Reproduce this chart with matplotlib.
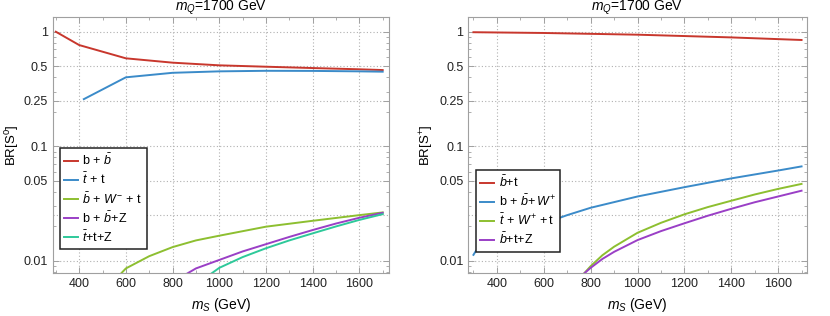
import matplotlib
matplotlib.use("Agg")
import matplotlib.pyplot as plt
from matplotlib.ticker import FixedLocator, NullFormatter, FixedFormatter

plt.rcParams['font.family'] = ['Liberation Sans', 'DejaVu Sans']
plt.rcParams['mathtext.fontset'] = 'custom'
plt.rcParams['mathtext.rm'] = 'Liberation Sans'
plt.rcParams['mathtext.it'] = 'Liberation Sans:italic'
plt.rcParams['mathtext.default'] = 'it'

# ---------------- data: left panel (S0) ----------------
l_bb_x = [300, 400, 600, 800, 1000, 1200, 1400, 1600, 1700]
l_bb_y = [1.0, 0.765, 0.586, 0.537, 0.509, 0.495, 0.482, 0.470, 0.463]
l_tt_x = [420, 600, 800, 1000, 1200, 1400, 1600, 1700]
l_tt_y = [0.258, 0.40, 0.438, 0.451, 0.456, 0.455, 0.451, 0.448]
l_bwt_x = [575, 600, 700, 800, 900, 1000, 1200, 1400, 1600, 1700]
l_bwt_y = [0.0076, 0.0086, 0.0110, 0.0132, 0.0151, 0.0166, 0.0199, 0.0224, 0.0251, 0.0265]
l_bbz_x = [855, 900, 1000, 1100, 1200, 1300, 1400, 1500, 1600, 1700]
l_bbz_y = [0.0076, 0.0086, 0.0102, 0.0121, 0.0140, 0.0162, 0.0186, 0.0212, 0.0238, 0.0263]
l_ttz_x = [960, 1000, 1100, 1200, 1300, 1400, 1500, 1600, 1700]
l_ttz_y = [0.0076, 0.0087, 0.0108, 0.0129, 0.0151, 0.0174, 0.0200, 0.0228, 0.0256]

# ---------------- data: right panel (S+) ----------------
r_bt_x = [300, 600, 1000, 1400, 1700]
r_bt_y = [0.99, 0.975, 0.942, 0.892, 0.847]
r_bbw_x = [300, 310, 330, 400, 500, 600, 700, 800, 1000, 1200, 1400, 1600, 1700]
r_bbw_y = [0.0113, 0.0122, 0.0133, 0.0155, 0.0182, 0.0212, 0.0251, 0.0291, 0.0365,
           0.0440, 0.0525, 0.0615, 0.0668]
r_twt_x = [770, 800, 850, 900, 1000, 1100, 1200, 1300, 1400, 1500, 1600, 1700]
r_twt_y = [0.0077, 0.0090, 0.0112, 0.0133, 0.0176, 0.0215, 0.0255, 0.0295, 0.0335,
           0.0380, 0.0425, 0.0470]
r_btz_x = [770, 800, 850, 900, 1000, 1100, 1200, 1300, 1400, 1500, 1600, 1700]
r_btz_y = [0.0077, 0.0087, 0.0104, 0.0120, 0.0152, 0.0182, 0.0213, 0.0248, 0.0285,
           0.0325, 0.0365, 0.0410]

left_labels = [r'b$\,+\,\bar{b}$', r'$\bar{t}$$\,+\,$t', r'$\bar{b}$$\,+\,W^{-}\,+\,$t',
               r'b$\,+\,\bar{b}$$+$Z', r'$\bar{t}$$+$t$+$Z']
right_labels = [r'$\bar{b}$$+$t', r'b$\,+\,\bar{b}$$+\,W^{+}$', r'$\bar{t}$$\,+\,W^{+}\,+$t',
                r'$\bar{b}$$+$t$+$Z']

yticks = [0.01, 0.05, 0.1, 0.25, 0.5, 1]
yticklabels = ['0.01', '0.05', '0.1', '0.25', '0.5', '1']
ygrid = [0.01, 0.025, 0.05, 0.1, 0.25, 0.5, 1]
xticks = [400, 600, 800, 1000, 1200, 1400, 1600]
xminor = [300, 500, 700, 900, 1100, 1300, 1500, 1700]

C_RED = '#c8372d'
C_BLUE = '#3b8bc9'
C_GREEN = '#8dbf30'
C_PURPLE = '#9a3fc6'
C_TEAL = '#2ec99a'

fig = plt.figure(figsize=(8.3, 3.16), dpi=100)
axL = fig.add_axes([53/830, 1 - 273.3/316, 336/830, 256/316])
axR = fig.add_axes([468.3/830, 1 - 273.3/316, 338.4/830, 256/316])

yminor = []
for dec in [0.001, 0.01, 0.1]:
    for s in range(2, 10):
        yminor.append(s * dec)

def style(ax, xlim, ylabel):
    ax.set_yscale('log')
    ax.set_xlim(*xlim)
    ax.set_ylim(0.0078, 1.336)
    ax.yaxis.set_major_locator(FixedLocator(yticks))
    ax.yaxis.set_major_formatter(FixedFormatter(yticklabels))
    ax.yaxis.set_minor_locator(FixedLocator(yminor))
    ax.yaxis.set_minor_formatter(NullFormatter())
    ax.xaxis.set_major_locator(FixedLocator(xticks))
    ax.xaxis.set_minor_locator(FixedLocator(xminor))
    for v in xticks:
        ax.axvline(v, color='#b0b0b0', lw=0.8, ls=(0, (1, 2)), zorder=0)
    for v in ygrid:
        ax.axhline(v, color='#b0b0b0', lw=0.8, ls=(0, (1, 2)), zorder=0)
    for sp in ax.spines.values():
        sp.set_color('#a0a0a0')
        sp.set_linewidth(0.8)
    ax.tick_params(which='both', direction='in', colors='#a0a0a0', labelcolor='#222222',
                   labelsize=9, top=True, right=True)
    ax.tick_params(which='major', length=4, width=0.7)
    ax.tick_params(which='minor', length=2, width=0.6)
    ax.set_title(r'$m_{Q}$=1700 GeV', fontsize=10, pad=1.5)
    ax.set_xlabel(r'$m_{S}$ (GeV)', fontsize=10, labelpad=4)
    ax.set_ylabel(ylabel, fontsize=9.5, labelpad=2)

style(axL, (288, 1727), r'BR[$\mathrm{S}^{0}$]')
style(axR, (278, 1722), r'BR[$\mathrm{S}^{+}$]')

lw = 1.4
axL.plot(l_bb_x, l_bb_y, color=C_RED, lw=lw, label=left_labels[0])
axL.plot(l_tt_x, l_tt_y, color=C_BLUE, lw=lw, label=left_labels[1])
axL.plot(l_bwt_x, l_bwt_y, color=C_GREEN, lw=lw, label=left_labels[2])
axL.plot(l_bbz_x, l_bbz_y, color=C_PURPLE, lw=lw, label=left_labels[3])
axL.plot(l_ttz_x, l_ttz_y, color=C_TEAL, lw=lw, label=left_labels[4])

axR.plot(r_bt_x, r_bt_y, color=C_RED, lw=lw, label=right_labels[0])
axR.plot(r_bbw_x, r_bbw_y, color=C_BLUE, lw=lw, label=right_labels[1])
axR.plot(r_twt_x, r_twt_y, color=C_GREEN, lw=lw, label=right_labels[2])
axR.plot(r_btz_x, r_btz_y, color=C_PURPLE, lw=lw, label=right_labels[3])

for ax, anchor in [(axL, (0.02, 0.094)), (axR, (0.023, 0.084))]:
    leg = ax.legend(loc='lower left', bbox_to_anchor=anchor, fontsize=9,
                    frameon=True, fancybox=False, framealpha=1, edgecolor='#222222',
                    handlelength=1.1, handletextpad=0.35, labelspacing=0.3,
                    borderpad=0.35, borderaxespad=0)
    leg.get_frame().set_linewidth(1.1)

fig.savefig('out.png', dpi=100)
